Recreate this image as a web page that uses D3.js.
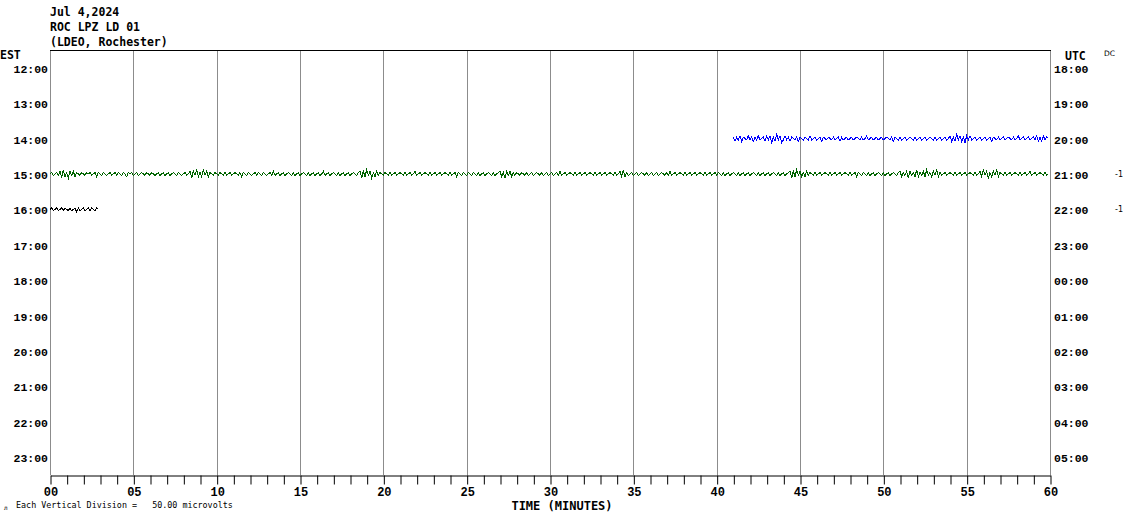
<!DOCTYPE html>
<html>
<head>
<meta charset="utf-8">
<script src="https://cdn.jsdelivr.net/npm/d3@7"></script>
<style>
html,body{margin:0;padding:0;background:#fff;}
svg{display:block;}
</style>
</head>
<body>
<svg id="chart" width="1130" height="519"></svg>
<script>
// ---------- DATA ----------
const titleLines = ["Jul 4,2024", "ROC LPZ LD 01", "(LDEO, Rochester)"];
const localHours = ["12:00","13:00","14:00","15:00","16:00","17:00","18:00","19:00","20:00","21:00","22:00","23:00"];
const utcHours   = ["18:00","19:00","20:00","21:00","22:00","23:00","00:00","01:00","02:00","03:00","04:00","05:00"];
const minuteTicks = [0,5,10,15,20,25,30,35,40,45,50,55,60];
const minuteLabels = ["00","05","10","15","20","25","30","35","40","45","50","55","60"];
const rowMarks = [{row: "21:00", text: "-1"}, {row: "22:00", text: "-1"}];
const scaleNote = "Each Vertical Division =   50.00 microvolts";
const sampleStep = 0.1; // minutes between samples

// trace on 14:00 row (blue), starts at minute 41
const blueStart = 41;
const blueValues = [
 1,-2,1,-1,2,-2,1,0,-1,2,-1,1,-2,1,-1,2,-1,0,1,-2,2,-1,2,-3,1,-2,3,-1,2,-3,-1,2,-1,1,-2,1,0,-1,1,-2,1,0,-1,1,0,-1,2,-1,0,1,
 -1,0,1,-2,1,0,-1,1,0,-1,1,-1,0,1,-2,1,-1,0,1,-1,0,1,-1,0,1,0,-1,1,-1,0,2,-1,0,1,-1,0,1,-1,0,1,-1,0,1,0,-1,1,-2,1,0,-1,
 1,-1,0,1,-1,0,1,0,-1,1,-1,0,1,-1,0,1,-1,0,1,0,-1,1,-1,0,1,-1,0,1,-1,0,2,-2,1,-2,3,-1,2,-2,1,-3,2,-1,2,-1,0,1,-1,0,1,-1,
 0,1,-1,0,1,-2,1,0,-1,1,-1,0,1,-1,0,1,0,-1,1,-1,0,2,-1,0,1,-1,0,1,-1,0,1,-1,2,-2,1,-2,2,-1,1,0
];
// trace on 15:00 row (green), full hour
const greenStart = 0;
const greenValues = [
 0,1,-1,0,1,-1,2,-3,3,-2,1,-3,2,-1,2,-2,1,0,-1,1,0,-1,1,0,1,-1,0,1,-2,1,0,-1,1,0,-1,0,1,-1,0,1,-1,1,0,-1,1,0,-2,1,0,1,
 -1,0,1,-1,0,1,0,-1,1,0,-1,1,0,-1,0,1,-1,0,1,-1,0,1,-1,0,1,0,-1,1,0,-1,0,1,-1,0,2,-3,2,-1,3,-2,1,-2,3,-1,2,-2,1,0,-1,1,
 0,-1,1,0,-1,1,-1,0,1,-1,0,1,0,-1,1,-2,1,0,-1,1,0,-1,0,1,-1,1,0,-1,1,0,-1,0,1,-1,2,-1,0,1,-1,0,1,-1,0,1,0,-1,1,-1,0,1,
 -1,0,1,0,-1,1,-1,0,1,-1,0,1,-1,0,2,-1,0,1,-1,0,1,0,-1,1,-1,0,1,-1,0,1,-1,0,1,0,-1,1,2,-3,2,-2,3,-1,2,-3,1,-2,2,-1,1,0,
 -1,1,0,-1,1,-1,0,1,-1,0,1,0,-1,1,-1,0,1,-1,0,2,-1,0,1,-1,0,1,0,-1,1,-1,0,1,-1,0,1,-1,0,1,0,-1,1,-1,0,1,-2,1,0,-1,1,0,
 -1,1,0,-1,1,0,-1,1,-1,0,1,-1,0,1,0,-1,1,-1,0,1,2,-2,1,-3,2,-1,2,-2,1,-1,1,0,-1,1,0,-1,1,-1,0,1,-1,0,1,0,-1,1,-1,0,1,-1,
 0,1,-1,0,1,-1,2,-1,0,1,-1,0,1,0,-1,1,-1,0,1,-1,0,1,-1,0,1,0,-1,1,-1,0,1,-1,0,1,-1,0,1,0,-1,1,-1,0,2,-2,3,-2,1,-1,0,1,
 -1,0,1,-1,0,1,0,-1,1,-1,0,1,-1,0,1,-1,0,1,0,-1,1,-1,2,-1,0,1,-1,0,1,0,-1,1,-1,0,1,-1,0,1,-1,0,1,0,-1,1,-1,0,1,-1,0,1,
 -1,1,0,-1,1,-1,0,1,-1,0,1,0,-1,1,-1,0,1,-1,0,1,-1,0,1,0,-1,1,-1,0,1,-1,0,1,-1,0,1,0,-1,1,-1,0,1,-1,0,1,2,-3,2,-2,3,-1,
 2,-2,1,-2,2,-1,1,0,-1,1,-1,0,1,-1,0,1,0,-1,1,-1,0,1,-1,0,1,-1,0,1,0,-1,1,-1,0,1,-2,1,0,-1,1,0,-1,1,-1,0,1,-1,0,1,0,-1,
 1,-1,0,1,-1,0,1,0,-1,1,2,-2,1,-1,2,-3,2,-1,1,-2,3,-2,1,-1,2,-2,3,-1,1,-2,2,-1,3,-2,1,-1,0,1,-1,0,1,0,-1,1,-1,0,1,-1,0,1,
 -1,0,1,0,-1,1,-1,0,2,-2,3,-1,2,-3,1,-2,2,-1,3,-2,1,0,-1,1,-1,0,1,-1,0,1,0,-1,1,-1,0,1,-1,0,2,-1,0,1,-1,0,1,0,-1,1,-1,0
];
// trace on 16:00 row (black), first 3 minutes
const blackStart = 0;
const blackValues = [0,1,-1,0,1,-1,0,1,-1,1,0,-1,1,-1,0,1,-2,1,-1,0,1,-1,0,1,-1,1,0,-1,1,0];

const traces = [
  {row: "14:00", start: blueStart, values: blueValues, color: "#0000ff"},
  {row: "15:00", start: greenStart, values: greenValues, color: "#006400"},
  {row: "16:00", start: blackStart, values: blackValues, color: "#000000"}
];

// ---------- DRAW ----------
(function () {
const svg = d3.select("#chart");
const pLeft = 50, pRight = 1050, pTop = 50, pBottom = 475;

const x = d3.scaleLinear().domain([0, 60]).range([pLeft, pRight]);
const rowBand = d3.scaleBand().domain(localHours).range([pTop, pBottom]);
const rowY = h => rowBand(h) + rowBand.bandwidth() / 2;
const utcBand = d3.scaleBand().domain(utcHours).range([pTop, pBottom]);
const amp = d3.scaleLinear().domain([-1, 1]).range([1.4, -1.4]);

// vertical grid lines
svg.append("g").selectAll("line").data(minuteTicks).join("line")
  .attr("x1", d => Math.round(x(d)) + 0.5).attr("x2", d => Math.round(x(d)) + 0.5)
  .attr("y1", pTop).attr("y2", pBottom)
  .attr("stroke", "#8c8c8c").attr("stroke-width", 1);

// top border
svg.append("line").attr("x1", pLeft).attr("x2", pRight + 1).attr("y1", pTop + 0.5).attr("y2", pTop + 0.5)
  .attr("stroke", "#000").attr("stroke-width", 1);

// bottom axis
const axis = d3.axisBottom(x)
  .tickValues(d3.range(0, 61, 1))
  .tickSize(9).tickSizeOuter(0)
  .tickFormat(d => d % 5 === 0 ? minuteLabels[minuteTicks.indexOf(d)] : "");
const gx = svg.append("g").attr("transform", `translate(0.5,${pBottom + 0.5})`).call(axis);
gx.select(".domain").attr("stroke", "#000");
gx.selectAll(".tick line").attr("stroke", "#000");
gx.selectAll(".tick text")
  .attr("y", 20).attr("dy", 0)
  .attr("fill", "#000")
  .style("font-family", "'Liberation Mono', monospace")
  .style("font-weight", "bold")
  .style("font-size", "12px");

// traces
const line = d3.line().curve(d3.curveLinear);
traces.forEach(t => {
  const pts = t.values.map((v, i) => [x(t.start + i * sampleStep), rowY(t.row) + amp(v)]);
  svg.append("path").attr("d", line(pts))
    .attr("fill", "none").attr("stroke", t.color).attr("stroke-width", 1)
    .attr("shape-rendering", "crispEdges");
});

// hour labels
const hourFont = "'Liberation Mono', monospace";
svg.append("g").selectAll("text").data(localHours).join("text")
  .attr("x", 48).attr("y", d => rowY(d) + 5)
  .attr("text-anchor", "end")
  .style("font-family", hourFont).style("font-weight", "bold").style("font-size", "11.5px")
  .text(d => d);
svg.append("g").selectAll("text").data(utcHours).join("text")
  .attr("x", 1054).attr("y", d => utcBand(d) + utcBand.bandwidth() / 2 + 5)
  .attr("text-anchor", "start")
  .style("font-family", hourFont).style("font-weight", "bold").style("font-size", "11.5px")
  .text(d => d);

// row marks
svg.append("g").selectAll("text").data(rowMarks).join("text")
  .attr("x", 1115).attr("y", d => utcBand(d.row) + utcBand.bandwidth() / 2 + 3)
  .attr("fill", "#000")
  .style("font-family", "'DejaVu Sans', sans-serif").style("font-size", "8px")
  .text(d => d.text);

// title
const tfont = "'DejaVu Sans Mono', monospace";
svg.append("g").selectAll("text").data(titleLines).join("text")
  .attr("x", 50).attr("y", (d, i) => 16 + i * 15)
  .style("font-family", tfont).style("font-weight", "bold").style("font-size", "11.5px")
  .text(d => d);

svg.append("text").attr("x", 0).attr("y", 59).text("EST")
  .style("font-family", tfont).style("font-weight", "bold").style("font-size", "11.5px");
svg.append("text").attr("x", 1065).attr("y", 60).text("UTC")
  .style("font-family", tfont).style("font-weight", "bold").style("font-size", "11.5px");
svg.append("text").attr("x", 1104).attr("y", 56).text("DC")
  .attr("fill", "#000")
  .style("font-family", "'DejaVu Sans', sans-serif").style("font-size", "7.5px");

// axis title
svg.append("text").attr("x", 562).attr("y", 510).attr("text-anchor", "middle")
  .text("TIME (MINUTES)")
  .style("font-family", tfont).style("font-weight", "bold").style("font-size", "12px");

// scale note
svg.append("text").attr("x", 16).attr("y", 508).text(scaleNote)
  .attr("xml:space", "preserve").style("white-space", "pre")
  .style("font-family", tfont).style("font-size", "8.4px");
svg.append("text").attr("x", 4).attr("y", 510).text("л")
  .style("font-family", tfont).style("font-size", "6px");
})();
</script>
</body>
</html>
